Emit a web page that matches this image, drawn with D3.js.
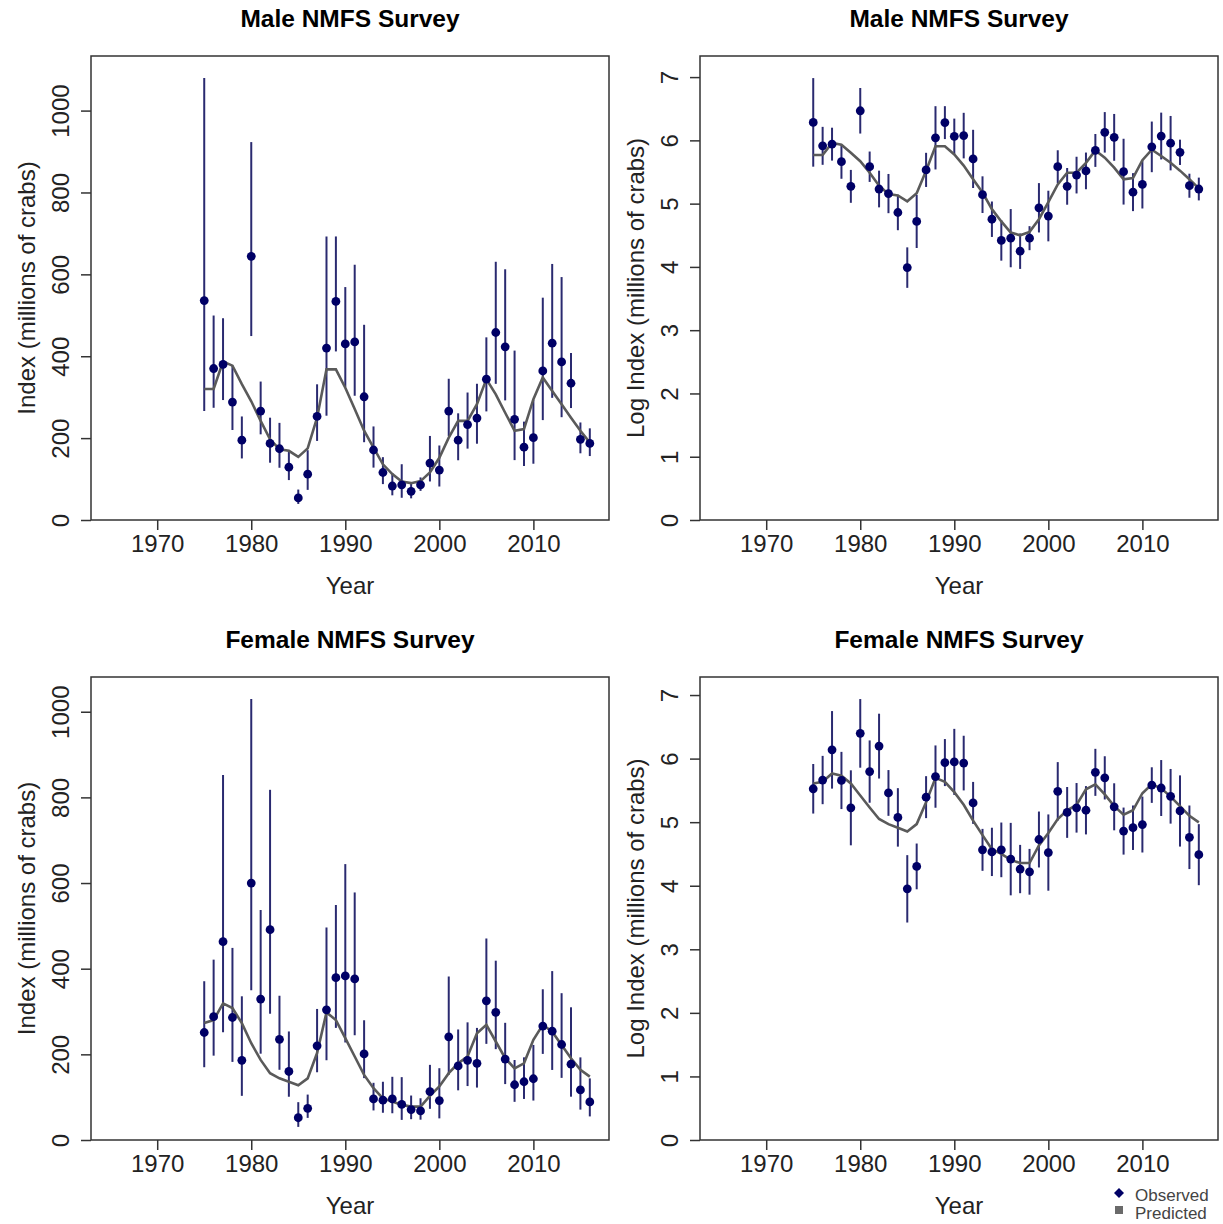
<!DOCTYPE html>
<html>
<head>
<meta charset="utf-8">
<script src="https://cdn.jsdelivr.net/npm/d3@7"></script>
<style>
  body { margin: 0; background: #fff; }
  svg { display: block; font-family: "Liberation Sans", Arial, sans-serif; }
</style>
</head>
<body>
<svg id="chart" width="1223" height="1224"></svg>
<script>
// survey years
const years = [1975, 1976, 1977, 1978, 1979, 1980, 1981, 1982, 1983, 1984,
  1985, 1986, 1987, 1988, 1989, 1990, 1991, 1992, 1993, 1994,
  1995, 1996, 1997, 1998, 1999, 2000, 2001, 2002, 2003, 2004,
  2005, 2006, 2007, 2008, 2009, 2010, 2011, 2012, 2013, 2014,
  2015, 2016];

// male observed index (millions of crabs), CI half-width in log units, predicted
const maleObs = [536, 370, 380, 288, 195, 644, 266, 187, 174, 129,
  54, 112, 253, 420, 534, 430, 435, 301, 171, 116,
  83, 86, 70, 86, 139, 122, 266, 195, 233, 249,
  344, 458, 423, 246, 178, 201, 364, 432, 386, 334,
  197, 187];
const maleHalf = [0.70, 0.30, 0.26, 0.27, 0.26, 0.36, 0.24, 0.29, 0.31, 0.28,
  0.32, 0.42, 0.27, 0.50, 0.26, 0.28, 0.36, 0.46, 0.29, 0.28,
  0.32, 0.46, 0.28, 0.19, 0.39, 0.40, 0.26, 0.29, 0.29, 0.29,
  0.26, 0.32, 0.37, 0.52, 0.30, 0.38, 0.40, 0.37, 0.43, 0.20,
  0.19, 0.18];
const malePred = [320, 320, 387, 377, 332, 290, 242, 197, 173, 169,
  154, 175, 250, 368, 368, 323, 271, 218, 177, 136,
  112, 94, 90, 95, 116, 152, 201, 242, 242, 283,
  344, 307, 262, 218, 222, 295, 348, 315, 283, 250,
  218, 189];

// female
const femaleObs = [251, 288, 463, 286, 186, 600, 329, 491, 235, 160,
  52, 74, 220, 304, 379, 383, 376, 201, 96, 93,
  96, 83, 71, 68, 113, 92, 241, 173, 186, 179,
  325, 298, 189, 129, 136, 143, 266, 254, 223, 177,
  117, 89];
const femaleHalf = [0.39, 0.38, 0.61, 0.45, 0.59, 0.54, 0.49, 0.51, 0.36, 0.46,
  0.53, 0.36, 0.33, 0.49, 0.37, 0.52, 0.43, 0.33, 0.33, 0.38,
  0.43, 0.57, 0.38, 0.36, 0.44, 0.60, 0.46, 0.40, 0.39, 0.38,
  0.37, 0.34, 0.37, 0.37, 0.35, 0.44, 0.28, 0.44, 0.43, 0.56,
  0.50, 0.48];
const femalePred = [273, 280, 319, 308, 273, 226, 187, 156, 144, 136,
  128, 144, 203, 298, 280, 238, 195, 152, 121, 97,
  90, 82, 78, 78, 103, 125, 156, 179, 195, 249,
  269, 230, 191, 167, 179, 234, 269, 253, 222, 191,
  164, 148];

const xTicks = [1970, 1980, 1990, 2000, 2010];
const indexTicks = [0, 200, 400, 600, 800, 1000];
const logTicks = [0, 1, 2, 3, 4, 5, 6, 7];

const svg = d3.select('#chart');

const W = 518;
const panels = [
  {x: 91, y: 56, h: 464, obs: maleObs, half: maleHalf, pred: malePred, log: false, title: 'Male NMFS Survey'},
  {x: 700, y: 56, h: 464, obs: maleObs, half: maleHalf, pred: malePred, log: true, title: 'Male NMFS Survey'},
  {x: 91, y: 677, h: 463, obs: femaleObs, half: femaleHalf, pred: femalePred, log: false, title: 'Female NMFS Survey'},
  {x: 700, y: 677, h: 463, obs: femaleObs, half: femaleHalf, pred: femalePred, log: true, title: 'Female NMFS Survey'},
];

const FS = 24;

panels.forEach((p) => {
  const g = svg.append('g').attr('transform', `translate(${p.x},${p.y})`);

  const rows = years.map((yr, i) => {
    const m = Math.log(p.obs[i]);
    const lo = m - p.half[i];
    const hi = m + p.half[i];
    return p.log
      ? {yr, v: m, lo, hi, pr: Math.log(p.pred[i])}
      : {yr, v: p.obs[i], lo: Math.exp(lo), hi: Math.exp(hi), pr: p.pred[i]};
  });

  // R style: xlim 1965-2016 with 4% padding, ylim 0 .. 1.05*max
  const x = d3.scaleLinear().domain([1965 - 2.04, 2016 + 2.04]).range([0, W]);
  const y = d3.scaleLinear()
    .domain([0, 1.05 * d3.max(rows, (d) => d.hi)])
    .range([p.h, 0]);

  const xAxis = g.append('g')
    .attr('transform', `translate(0,${p.h})`)
    .call(d3.axisBottom(x).tickValues(xTicks).tickFormat(d3.format('d')).tickSize(10).tickPadding(5).tickSizeOuter(0));
  const yAxis = g.append('g')
    .call(d3.axisLeft(y).tickValues(p.log ? logTicks : indexTicks).tickFormat(d3.format('d')).tickSize(10).tickSizeOuter(0));

  [xAxis, yAxis].forEach((a) => {
    a.select('.domain').remove();
    a.selectAll('line').attr('stroke', '#333').attr('stroke-width', 1.5);
    a.selectAll('text').attr('font-size', FS).attr('fill', '#222').attr('font-family', null);
  });
  yAxis.selectAll('text')
    .attr('x', null).attr('dy', null)
    .attr('text-anchor', 'middle')
    .attr('transform', 'translate(-22,0) rotate(-90)');

  // error bars
  g.selectAll('line.bar')
    .data(rows)
    .enter()
    .append('line')
    .attr('class', 'bar')
    .attr('x1', (d) => x(d.yr))
    .attr('x2', (d) => x(d.yr))
    .attr('y1', (d) => y(d.lo))
    .attr('y2', (d) => y(d.hi))
    .attr('stroke', '#2a2a70')
    .attr('stroke-width', 2);

  // predicted
  g.append('path')
    .datum(rows)
    .attr('d', d3.line().x((d) => x(d.yr)).y((d) => y(d.pr)))
    .attr('fill', 'none')
    .attr('stroke', '#5a5a5a')
    .attr('stroke-width', 2.6);

  // observed
  g.selectAll('circle')
    .data(rows)
    .enter()
    .append('circle')
    .attr('cx', (d) => x(d.yr))
    .attr('cy', (d) => y(d.v))
    .attr('r', 4.4)
    .attr('fill', '#000066');

  g.append('rect')
    .attr('width', W).attr('height', p.h)
    .attr('fill', 'none')
    .attr('stroke', '#333')
    .attr('stroke-width', 1.5);

  g.append('text')
    .attr('x', W / 2).attr('y', -29)
    .attr('text-anchor', 'middle')
    .attr('font-size', 24.5)
    .attr('font-weight', 'bold')
    .text(p.title);

  g.append('text')
    .attr('x', W / 2).attr('y', p.h + 74)
    .attr('text-anchor', 'middle')
    .attr('font-size', FS)
    .attr('fill', '#222')
    .text('Year');

  g.append('text')
    .attr('transform', `translate(-56,${p.h / 2}) rotate(-90)`)
    .attr('text-anchor', 'middle')
    .attr('font-size', FS)
    .attr('fill', '#222')
    .text(p.log ? 'Log Index (millions of crabs)' : 'Index (millions of crabs)');
});

// legend
const legend = svg.append('g').attr('transform', 'translate(1119,1193)');
legend.append('path')
  .attr('d', d3.symbol(d3.symbolSquare, 50)())
  .attr('transform', 'rotate(45)')
  .attr('fill', '#000066');
legend.append('rect')
  .attr('x', -4).attr('y', 13).attr('width', 8).attr('height', 8)
  .attr('fill', '#6a6a6a');
legend.append('text')
  .attr('x', 16).attr('y', 8)
  .attr('font-size', 17).attr('fill', '#444')
  .text('Observed');
legend.append('text')
  .attr('x', 16).attr('y', 26)
  .attr('font-size', 17).attr('fill', '#444')
  .text('Predicted');
</script>
</body>
</html>
